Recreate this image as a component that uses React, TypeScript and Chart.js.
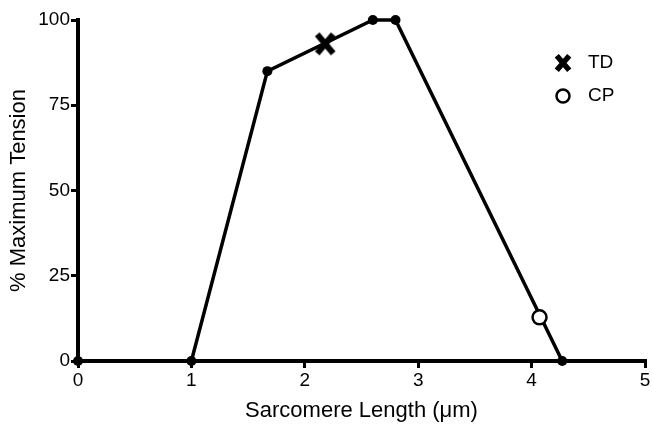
import React, { useEffect, useRef } from "react";
import { Chart, registerables } from "chart.js";

Chart.register(...registerables);

const lengths = [0, 1.0, 1.67, 2.6, 2.8, 4.27];
const tension = [0, 0, 85, 100, 100, 0];
const tdX = [2.18];
const tdY = [93];
const cpX = [4.07];
const cpY = [12.8];
const xTicks = [0, 1, 2, 3, 4, 5];
const yTicks = [0, 25, 50, 75, 100];
const legendLabels = ["TD", "CP"];

const FONT = "'Liberation Sans', Arial, Helvetica, sans-serif";

function makeX(w: number, h: number, lw: number) {
  const c = document.createElement("canvas");
  c.width = w;
  c.height = h;
  const ctx = c.getContext("2d")!;
  ctx.strokeStyle = "#000";
  ctx.lineWidth = lw;
  ctx.lineCap = "butt";
  const m = lw / 2;
  ctx.beginPath();
  ctx.moveTo(m, m);
  ctx.lineTo(w - m, h - m);
  ctx.moveTo(w - m, m);
  ctx.lineTo(m, h - m);
  ctx.stroke();
  return c;
}

const legendPlugin = {
  id: "customLegend",
  afterDraw(chart: any) {
    const ctx = chart.ctx;
    ctx.save();
    const x0 = 563;
    const y1 = 63;
    const y2 = 96;
    const xImg = makeX(18, 20, 5.5);
    ctx.drawImage(xImg, x0 - 9, y1 - 10);
    ctx.strokeStyle = "#000";
    ctx.lineWidth = 2.5;
    ctx.fillStyle = "#fff";
    ctx.beginPath();
    ctx.arc(x0, y2, 6.5, 0, Math.PI * 2);
    ctx.fill();
    ctx.stroke();
    ctx.fillStyle = "#000";
    ctx.font = `19px ${FONT}`;
    ctx.textBaseline = "middle";
    ctx.textAlign = "left";
    ctx.fillText(legendLabels[0], 588, y1);
    ctx.fillText(legendLabels[1], 588, y2);
    ctx.restore();
  },
};

export default function App() {
  const ref = useRef<HTMLCanvasElement | null>(null);
  useEffect(() => {
    document.body.style.margin = "0";
    const canvas = ref.current!;
    const xMarker = makeX(22, 25, 6);
    const chart = new Chart(canvas, {
      type: "scatter",
      data: {
        datasets: [
          {
            label: "curve",
            data: lengths.map((x, i) => ({ x, y: tension[i] })),
            showLine: true,
            borderColor: "#000",
            borderWidth: 3.5,
            backgroundColor: "#000",
            pointRadius: 5,
            pointHoverRadius: 5,
            pointBorderWidth: 0,
            clip: false,
            order: 2,
          },
          {
            label: "TD",
            data: tdX.map((x, i) => ({ x, y: tdY[i] })),
            pointStyle: xMarker as any,
            pointRadius: 11,
            clip: false,
            order: 1,
          },
          {
            label: "CP",
            data: cpX.map((x, i) => ({ x, y: cpY[i] })),
            pointStyle: "circle",
            pointRadius: 7,
            borderColor: "#000",
            backgroundColor: "#fff",
            pointBorderWidth: 2.5,
            borderWidth: 2.5,
            clip: false,
            order: 0,
          },
        ],
      },
      options: {
        responsive: false,
        animation: false,
        layout: { autoPadding: false, padding: { top: 20, right: 7, left: 0, bottom: 0 } },
        plugins: {
          legend: { display: false },
          tooltip: { enabled: false },
        },
        scales: {
          x: {
            type: "linear",
            min: 0,
            max: 5,
            afterFit: (s: any) => {
              s.height = 69;
              s.paddingRight = 0;
              s.paddingLeft = 0;
            },
            afterBuildTicks: (s: any) => {
              s.ticks = xTicks.map((v) => ({ value: v }));
            },
            border: { display: true, color: "#000", width: 4 },
            grid: {
              drawOnChartArea: false,
              drawTicks: true,
              tickLength: 7,
              tickWidth: 3,
              tickColor: "#000",
              color: "#000",
              lineWidth: 3,
            },
            ticks: {
              color: "#000",
              font: { family: FONT, size: 19 },
              padding: 1,
              maxRotation: 0,
            },
            title: {
              display: true,
              text: "Sarcomere Length (μm)",
              color: "#000",
              font: { family: FONT, size: 22 },
              padding: { top: 0, bottom: 6 },
            },
          },
          y: {
            type: "linear",
            min: 0,
            max: 100,
            afterFit: (s: any) => {
              s.width = 78;
              s.paddingTop = 0;
              s.paddingBottom = 0;
            },
            afterBuildTicks: (s: any) => {
              s.ticks = yTicks.map((v) => ({ value: v }));
            },
            border: { display: true, color: "#000", width: 4 },
            grid: {
              drawOnChartArea: false,
              drawTicks: true,
              tickLength: 7,
              tickWidth: 3,
              tickColor: "#000",
              color: "#000",
              lineWidth: 3,
            },
            ticks: {
              color: "#000",
              font: { family: FONT, size: 19 },
              padding: 1,
            },
            title: {
              display: true,
              text: "% Maximum Tension",
              color: "#000",
              font: { family: FONT, size: 22 },
              padding: { top: 6, bottom: 0 },
            },
          },
        },
      },
      plugins: [legendPlugin],
    });
    return () => chart.destroy();
  }, []);
  return (
    <div style={{ width: 652, height: 430 }}>
      <canvas ref={ref} width={652} height={430} />
    </div>
  );
}
